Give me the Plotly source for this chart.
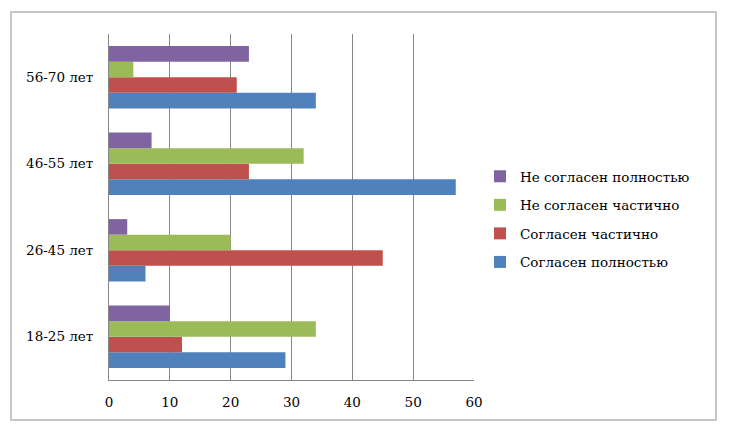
import plotly.graph_objects as go

categories = ["18-25 лет", "26-45 лет", "46-55 лет", "56-70 лет"]
series_names = ["Согласен полностью", "Согласен частично", "Не согласен частично", "Не согласен полностью"]
agree_full = [29, 6, 57, 34]
agree_part = [12, 45, 23, 21]
disagree_part = [34, 20, 32, 4]
disagree_full = [10, 3, 7, 23]
x_ticks = [0, 10, 20, 30, 40, 50, 60]

colors = ["#4F81BD", "#C0504D", "#9BBB59", "#8064A2"]
values = [agree_full, agree_part, disagree_part, disagree_full]

FONT = "DejaVu Serif"
FS = 13.5

fig = go.Figure()
for i, (name, vals, col) in enumerate(zip(series_names, values, colors)):
    fig.add_trace(go.Bar(
        y=categories, x=vals, name=name, orientation="h",
        marker=dict(color=col, line=dict(width=0)),
        legendgroup=name, legendrank=1000 - i,
    ))

W, H = 729, 443
OFF = 8  # page body margin
L, R, T, B = 109 - OFF, 474 - OFF, 34 - OFF, 380 - OFF

def px(x):
    return (x - OFF - L) / (R - L)

def py(y):
    return (B - (y - OFF)) / (B - T)

fig.update_layout(
    width=W, height=H,
    margin=dict(l=L, r=W - R, t=T, b=H - B),
    paper_bgcolor="white", plot_bgcolor="white",
    barmode="group", bargap=0.28, bargroupgap=0,
    font=dict(family=FONT, size=FS, color="#000000"),
    showlegend=True,
    legend=dict(
        traceorder="grouped", tracegroupgap=8,
        x=px(480), y=py(161), xanchor="left", yanchor="top",
        font=dict(family=FONT, size=FS, color="#000000"),
        itemwidth=30, bgcolor="rgba(0,0,0,0)",
    ),
    xaxis=dict(
        range=[0, 60], tickvals=x_ticks, showgrid=True, gridcolor="#868686", gridwidth=1,
        showline=True, linecolor="#868686", linewidth=1, zeroline=False,
        ticks="", ticklabelstandoff=10, tickfont=dict(family=FONT, size=FS),
        fixedrange=True,
    ),
    yaxis=dict(
        showgrid=False, showline=True, linecolor="#868686", linewidth=1,
        ticks="", ticklabelstandoff=12, tickfont=dict(family=FONT, size=FS),
        fixedrange=True,
    ),
    shapes=[
        dict(type="rect", xref="paper", yref="paper",
             x0=px(11), x1=px(716), y0=py(420), y1=py(12),
             line=dict(color="#c6c6c6", width=2), fillcolor="rgba(0,0,0,0)", layer="below"),
    ],
)

fig.write_html("out.html")
